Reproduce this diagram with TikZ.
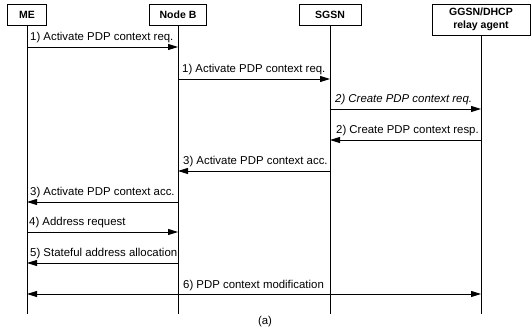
\documentclass[tikz,border=0pt]{standalone}
\usepackage{fontspec}
\setmainfont{Liberation Sans}
\usetikzlibrary{arrows.meta}
\begin{document}
\begin{tikzpicture}[x=1pt,y=-1pt,
  ent/.style={draw, line width=0.9pt, minimum height=21pt, inner sep=0pt,
    font=\fontsize{10.5}{12.5}\selectfont\bfseries, align=center},
  life/.style={line width=0.8pt},
  msg/.style={line width=0.9pt, -{Triangle[length=10pt,width=6pt]}},
  dmsg/.style={line width=0.9pt, {Triangle[length=10pt,width=6pt]}-{Triangle[length=10pt,width=6pt]}},
  lbl/.style={anchor=base west, inner sep=0pt, font=\fontsize{11.4}{13.5}\selectfont}]
\useasboundingbox (0,0) rectangle (531,331);
% entities
\node[ent, minimum width=39pt] (me) at (27,14.5) {ME};
\node[ent, minimum width=57pt] (nb) at (178,14.5) {Node B};
\node[ent, minimum width=62pt] (sg) at (330,14.5) {SGSN};
\node[ent, minimum width=98pt, minimum height=31pt] (gg) at (481,19.5) {GGSN/DHCP\\relay agent};
% lifelines
\coordinate (bot) at (0,314);
\draw[life] (me.south) -- (me.south |- bot);
\draw[life] (nb.south) -- (nb.south |- bot);
\draw[life] (sg.south) -- (sg.south |- bot);
\draw[life] (gg.south) -- (gg.south |- bot);
% rows
\coordinate (r1) at (0,47);
\coordinate (r2) at (0,79);
\coordinate (r3) at (0,109);
\coordinate (r4) at (0,140);
\coordinate (r5) at (0,171);
\coordinate (r6) at (0,202);
\coordinate (r7) at (0,232);
\coordinate (r8) at (0,263);
\coordinate (r9) at (0,294);
% messages
\draw[msg] (me |- r1) -- (nb |- r1);
\node[lbl] (l1) at ([xshift=3pt,yshift=6pt]me |- r1) {1) Activate PDP context req.};
\draw[msg] (nb |- r2) -- (sg |- r2);
\node[lbl] (l2) at ([xshift=4pt,yshift=6pt]nb |- r2) {1) Activate PDP context req.};
\draw[msg] (sg |- r3) -- (gg |- r3);
\node[lbl] (l3) at ([xshift=5pt,yshift=6pt]sg |- r3) {\itshape 2) Create PDP context req.};
\draw[msg] (gg |- r4) -- (sg |- r4);
\node[lbl] (l4) at ([xshift=6pt,yshift=6pt]sg |- r4) {2) Create PDP context resp.};
\draw[msg] (sg |- r5) -- (nb |- r5);
\node[lbl] (l5) at ([xshift=5pt,yshift=6pt]nb |- r5) {3) Activate PDP context acc.};
\draw[msg] (nb |- r6) -- (me |- r6);
\node[lbl] (l6) at ([xshift=3pt,yshift=6pt]me |- r6) {3) Activate PDP context acc.};
\draw[msg] (me |- r7) -- (nb |- r7);
\node[lbl] (l7) at ([xshift=2pt,yshift=6pt]me |- r7) {4) Address request};
\draw[msg] (nb |- r8) -- (me |- r8);
\node[lbl] (l8) at ([xshift=3pt,yshift=6pt]me |- r8) {5) Stateful address allocation};
\draw[dmsg] (me |- r9) -- (gg |- r9);
\node[lbl] (l9) at ([xshift=5pt,yshift=5pt]nb |- r9) {6) PDP context modification};
% caption
\node[font=\fontsize{11.4}{13.5}\selectfont, inner sep=0pt] (cap) at (265,322) {(a)};
\end{tikzpicture}
\end{document}
